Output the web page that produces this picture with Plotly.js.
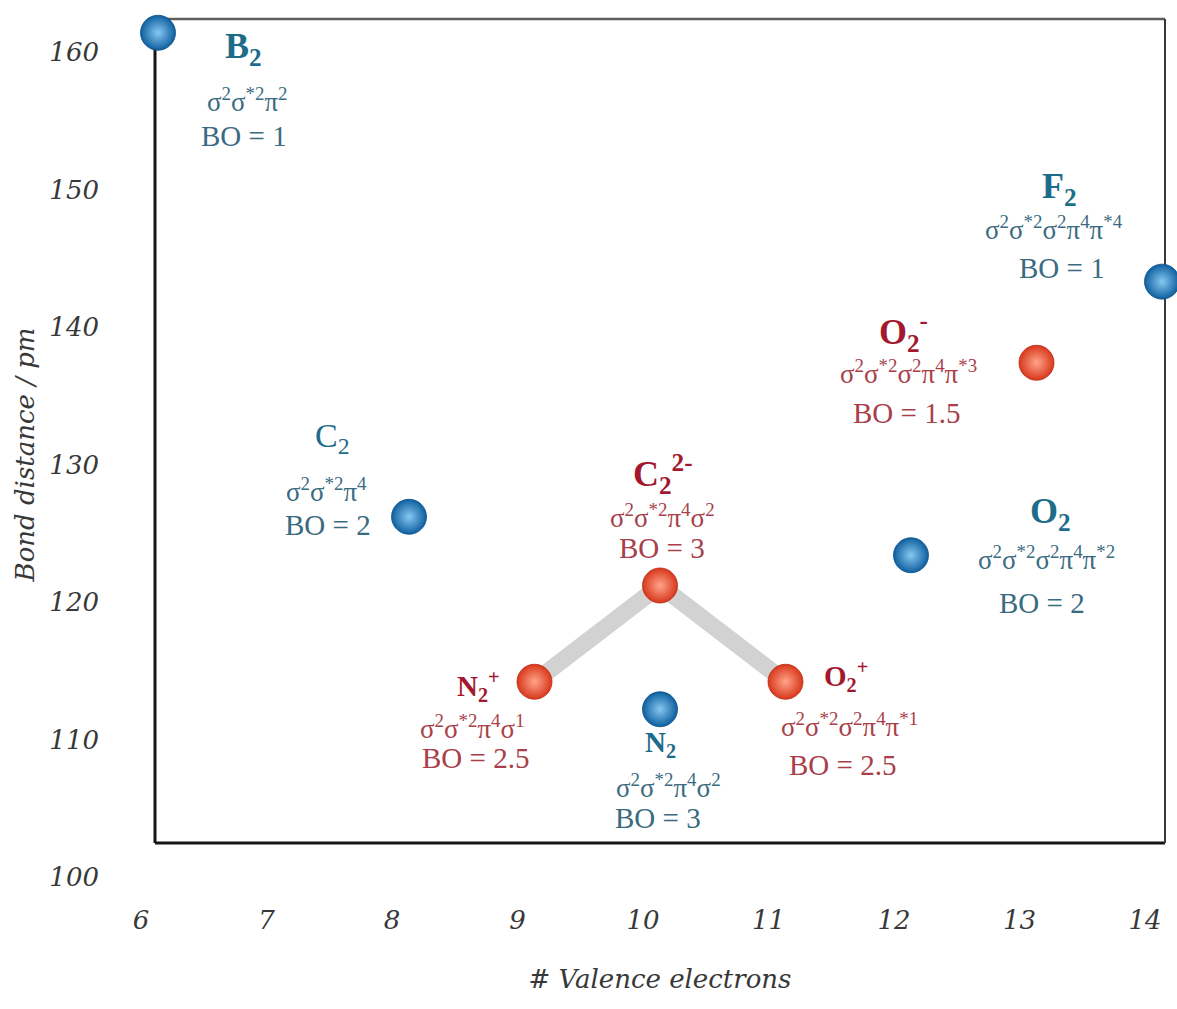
<!DOCTYPE html>
<html><head><meta charset="utf-8">
<script src="https://cdn.plot.ly/plotly-3.0.1.min.js"></script>
<style>html,body{margin:0;padding:0;background:#fff}</style>
</head><body><div id="chart" style="width:1177px;height:1009px"></div>
<script>
// ---- data ----
const neutralNames = ['B<sub>2</sub>', 'C<sub>2</sub>', 'N<sub>2</sub>', 'O<sub>2</sub>', 'F<sub>2</sub>'];
const neutralElectrons = [6, 8, 10, 12, 14];
const neutralDistance = [161.4, 126.2, 112.2, 123.4, 143.3];
const neutralConfig = [
  'σ<sup>2</sup>σ<sup>*2</sup>π<sup>2</sup>',
  'σ<sup>2</sup>σ<sup>*2</sup>π<sup>4</sup>',
  'σ<sup>2</sup>σ<sup>*2</sup>π<sup>4</sup>σ<sup>2</sup>',
  'σ<sup>2</sup>σ<sup>*2</sup>σ<sup>2</sup>π<sup>4</sup>π<sup>*2</sup>',
  'σ<sup>2</sup>σ<sup>*2</sup>σ<sup>2</sup>π<sup>4</sup>π<sup>*4</sup>'
];
const neutralBO = ['1', '2', '3', '2', '1'];

const ionNames = ['N<sub>2</sub><sup>+</sup>', 'C<sub>2</sub><sup>2-</sup>', 'O<sub>2</sub><sup>+</sup>', 'O<sub>2</sub><sup>-</sup>'];
const ionElectrons = [9, 10, 11, 13];
const ionDistance = [114.2, 121.2, 114.2, 137.4];
const ionConfig = [
  'σ<sup>2</sup>σ<sup>*2</sup>π<sup>4</sup>σ<sup>1</sup>',
  'σ<sup>2</sup>σ<sup>*2</sup>π<sup>4</sup>σ<sup>2</sup>',
  'σ<sup>2</sup>σ<sup>*2</sup>σ<sup>2</sup>π<sup>4</sup>π<sup>*1</sup>',
  'σ<sup>2</sup>σ<sup>*2</sup>σ<sup>2</sup>π<sup>4</sup>π<sup>*3</sup>'
];
const ionBO = ['2.5', '3', '2.5', '1.5'];

// ions joined by the grey band (N2+, C2 2-, O2+)
const bandCount = 3;

const xTicks = [6, 7, 8, 9, 10, 11, 12, 13, 14];
const yTicks = [100, 110, 120, 130, 140, 150, 160];

// ---- label placement (pixel offsets from the point: [dx, dy], dy down) ----
const neutralPlace = {
  name:   [[85, 16], [-77, -79], [0, 35], [140, -42], [-102, -93]],
  config: [[89, 67], [-83, -27], [8, 77], [136, 3], [-108, -54]],
  bo:     [[86, 103], [-81, 8], [-2, 109], [131, 48], [-100, -14]],
  nameSize: [36, 34, 29, 36, 36],
  nameBold: [true, false, true, true, true]
};
const ionPlace = {
  name:   [[-56, 4], [3, -112], [60, -6], [-133, -31]],
  config: [[-62, 45], [2, -70], [64, 43], [-128, 9]],
  bo:     [[-59, 76], [2, -38], [57, 83], [-130, 50]],
  nameSize: [29, 36, 29, 36],
  nameBold: [true, true, true, true]
};

const frameBottom = 102.47;
const serif = 'Liberation Serif, Times New Roman, serif';
const axisFont = {family: 'DejaVu Serif, serif', size: 26, color: '#383838', style: 'italic'};

const blue = {name: '#1d6d8a', body: '#3a6b80', edge: '#0f5f9f', light: '#86c8f2'};
const red = {name: '#a3182e', body: '#a8404a', edge: '#d8381c', light: '#ffa48a'};

function labels(xs, ys, names, configs, bos, place, col) {
  const out = [];
  for (let i = 0; i < xs.length; i++) {
    const base = {x: xs[i], y: ys[i], xref: 'x', yref: 'y', showarrow: false,
                  xanchor: 'center', yanchor: 'middle'};
    out.push(Object.assign({}, base, {
      text: names[i], xshift: place.name[i][0], yshift: -place.name[i][1],
      font: {family: serif, size: place.nameSize[i], color: col.name,
             weight: place.nameBold[i] ? 'bold' : 'normal'}
    }));
    out.push(Object.assign({}, base, {
      text: configs[i], xshift: place.config[i][0], yshift: -place.config[i][1],
      font: {family: serif, size: 27, color: col.body}
    }));
    out.push(Object.assign({}, base, {
      text: 'BO = ' + bos[i], xshift: place.bo[i][0], yshift: -place.bo[i][1],
      font: {family: serif, size: 29, color: col.body}
    }));
  }
  return out;
}

const traces = [
  {
    type: 'scatter', mode: 'lines', hoverinfo: 'skip',
    x: ionElectrons.slice(0, bandCount), y: ionDistance.slice(0, bandCount),
    line: {color: '#d2d2d2', width: 17}
  },
  {
    type: 'scatter', mode: 'markers', cliponaxis: false, name: 'neutral',
    x: neutralElectrons, y: neutralDistance,
    marker: {size: 35, color: blue.edge, line: {color: '#0b4f86', width: 0.8},
             gradient: {type: 'radial', color: blue.light}}
  },
  {
    type: 'scatter', mode: 'markers', cliponaxis: false, name: 'ions',
    x: ionElectrons, y: ionDistance,
    marker: {size: 35, color: red.edge, line: {color: '#b82a12', width: 0.8},
             gradient: {type: 'radial', color: red.light}}
  }
];

const layout = {
  width: 1177, height: 1009,
  margin: {l: 155, r: 12, t: 19, b: 119},
  paper_bgcolor: '#ffffff', plot_bgcolor: '#ffffff',
  showlegend: false,
  xaxis: {
    range: [5.976, 14.024], tickvals: xTicks, ticktext: xTicks.map(String),
    showgrid: false, zeroline: false, showline: false, ticks: '',
    tickfont: axisFont, ticklabelstandoff: 12, ticklabelshift: -17,
    title: {text: '# Valence electrons', font: axisFont, standoff: 35}
  },
  yaxis: {
    range: [99.055, 162.4], tickvals: yTicks, ticktext: yTicks.map(String),
    showgrid: false, zeroline: false, showline: false, ticks: '',
    tickfont: axisFont, ticklabelstandoff: 55,
    title: {text: 'Bond distance / pm', font: axisFont, standoff: 7}
  },
  shapes: [
    {type: 'line', layer: 'below', xref: 'paper', yref: 'y', x0: 0, x1: 1, y0: frameBottom, y1: frameBottom,
     line: {color: '#151515', width: 3}},
    {type: 'line', layer: 'below', xref: 'paper', yref: 'paper', x0: 0, x1: 1, y0: 1, y1: 1,
     line: {color: '#5e5e5e', width: 2.5}},
    {type: 'line', layer: 'below', xref: 'paper', yref: 'y', x0: 0, x1: 0, y0: frameBottom, y1: 162.4,
     line: {color: '#151515', width: 3}},
    {type: 'line', layer: 'below', xref: 'paper', yref: 'y', x0: 1, x1: 1, y0: frameBottom, y1: 162.4,
     line: {color: '#3a3a3a', width: 2}}
  ],
  annotations: [].concat(
    labels(neutralElectrons, neutralDistance, neutralNames, neutralConfig, neutralBO, neutralPlace, blue),
    labels(ionElectrons, ionDistance, ionNames, ionConfig, ionBO, ionPlace, red)
  )
};

Plotly.newPlot('chart', traces, layout, {displayModeBar: false, staticPlot: true});
</script>
</body></html>
